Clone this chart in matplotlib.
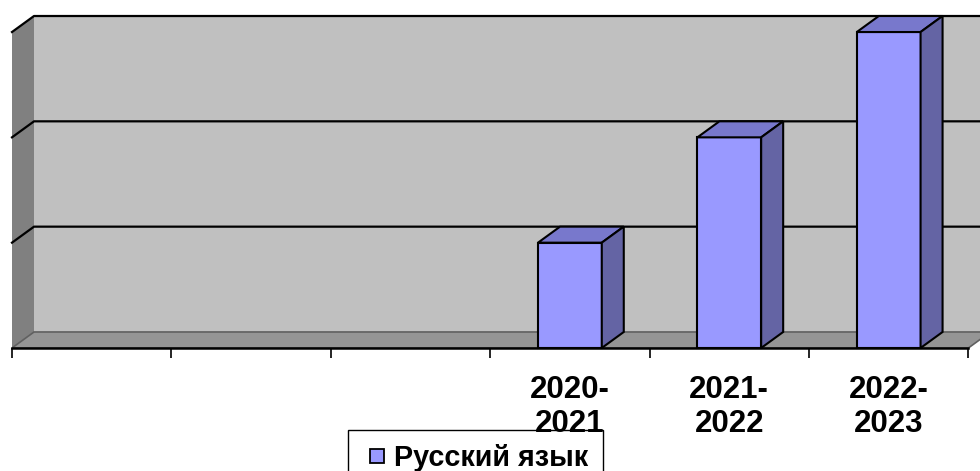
import matplotlib
matplotlib.use("Agg")
from matplotlib import pyplot as plt
from matplotlib.patches import Polygon
from matplotlib.lines import Line2D

# data
categories = ["", "", "", "2020-\n2021", "2021-\n2022", "2022-\n2023"]
values = [None, None, None, 1, 2, 3]
series_name = "Русский язык"
y_max = 3
grid_values = [1, 2, 3]

# look
front_col = "#9999FF"
top_col = "#7878CC"
side_col = "#6464A4"
wall_col = "#C0C0C0"
left_wall_col = "#808080"
floor_col = "#959595"
bar_w = 0.4
dx, dy = 0.138, 0.152   # depth offset in data units

plt.rcParams['font.family'] = ['Liberation Sans', 'DejaVu Sans']

fig = plt.figure(figsize=(9.8, 4.71), dpi=100)
ax = fig.add_axes([0, 0, 1, 1])
n = len(categories)
ax.set_xlim(-0.0753, 6.0728)
ax.set_ylim(-1.168, 3.304)

# walls and floor
ax.add_patch(Polygon([(dx, dy), (n + dx, dy), (n + dx, y_max + dy), (dx, y_max + dy)],
                     closed=True, facecolor=wall_col, edgecolor="none", zorder=1))
ax.add_patch(Polygon([(0, 0), (dx, dy), (dx, y_max + dy), (0, y_max)],
                     closed=True, facecolor=left_wall_col, edgecolor="none", zorder=1))
ax.add_patch(Polygon([(0, 0), (n, 0), (n + dx, dy), (dx, dy)],
                     closed=True, facecolor=floor_col, edgecolor="#606060", lw=1.2, zorder=2))

# gridlines on left wall and back wall
for g in grid_values:
    ax.plot([0, dx, n + dx], [g, g + dy, g + dy], color="black", lw=1.6, zorder=1.5)

# bars
for i, v in enumerate(values):
    if v is None:
        continue
    c = i + 0.5
    x0, x1 = c - bar_w / 2, c + bar_w / 2
    ax.bar(c, v, width=bar_w, color=front_col, edgecolor="black", linewidth=1.5, zorder=4)
    ax.add_patch(Polygon([(x0, v), (x1, v), (x1 + dx, v + dy), (x0 + dx, v + dy)],
                         closed=True, facecolor=top_col, edgecolor="black", lw=1.5, zorder=4))
    ax.add_patch(Polygon([(x1, 0), (x1 + dx, dy), (x1 + dx, v + dy), (x1, v)],
                         closed=True, facecolor=side_col, edgecolor="black", lw=1.5, zorder=4))

# category axis
for s in ["top", "right", "left"]:
    ax.spines[s].set_visible(False)
ax.spines["bottom"].set_position(("data", 0))
ax.spines["bottom"].set_bounds(0, n)
ax.spines["bottom"].set_linewidth(1.8)
ax.spines["bottom"].set_zorder(5)
ax.set_yticks([])
ax.set_xticks(range(n + 1))
ax.set_xticklabels([])
ax.set_xticks([i + 0.5 for i in range(n)], minor=True)
ax.set_xticklabels(categories, minor=True, fontsize=22.5, fontweight="bold", linespacing=1.18)
ax.tick_params(axis="x", which="major", direction="out", length=7.5, width=1.2, color="black")
ax.tick_params(axis="x", which="minor", length=0, pad=19.5)

# legend (kept under the category labels, as in the original)
handle = Line2D([], [], marker="s", linestyle="none", markersize=10,
                markerfacecolor=front_col, markeredgecolor="black", markeredgewidth=1.3)
leg = ax.legend([handle], [series_name], loc="upper left",
                bbox_to_anchor=(348 / 980, 1 - 430 / 471), bbox_transform=fig.transFigure,
                prop={"size": 20.7, "weight": "bold"}, frameon=True, fancybox=False,
                edgecolor="black", framealpha=1, borderpad=0.5, handlelength=1.0,
                handletextpad=0.1, borderaxespad=0)
leg.get_frame().set_linewidth(1.0)
leg.set_zorder(0.5)

fig.savefig("out.png", dpi=100)
